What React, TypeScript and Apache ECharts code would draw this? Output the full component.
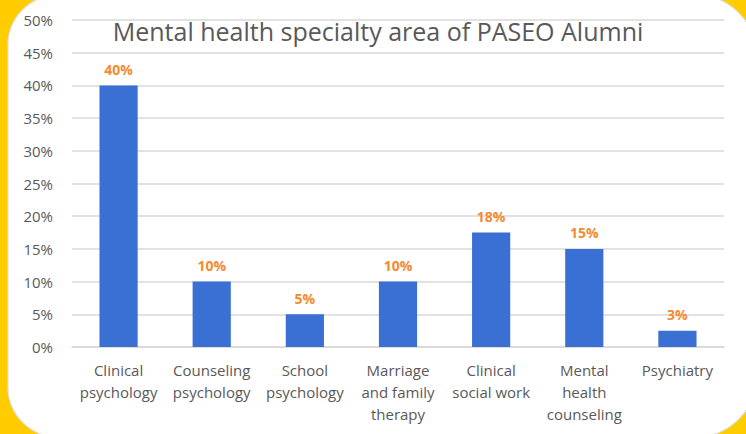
import React, { useEffect, useRef } from "react";
import * as echarts from "echarts";

const categories = [
  "Clinical\npsychology",
  "Counseling\npsychology",
  "School\npsychology",
  "Marriage\nand family\ntherapy",
  "Clinical\nsocial work",
  "Mental\nhealth\ncounseling",
  "Psychiatry",
];
const values = [40, 10, 5, 10, 17.5, 15, 2.5];
const titleText = "Mental health specialty area of PASEO Alumni";

export default function App() {
  const ref = useRef<HTMLDivElement>(null);
  useEffect(() => {
    document.body.style.margin = "0";
    const chart = echarts.init(ref.current!, null, { renderer: "svg" });
    chart.setOption({
      animation: false,
      backgroundColor: "#ffcc00",
      graphic: [
        {
          type: "rect",
          z: -10,
          silent: true,
          shape: { x: 8, y: -5, width: 748, height: 442, r: [50, 60, 60, 50] },
          style: { fill: "#ffffff", stroke: "#e0e0e0", lineWidth: 1.2 },
        },
      ],
      title: {
        text: titleText,
        left: 373,
        textAlign: "center",
        top: 13,
        textStyle: { fontFamily: "Open Sans", fontSize: 25, fontWeight: "normal", color: "#595959" },
      },
      grid: { left: 72, right: 22, top: 20, bottom: 87 },
      xAxis: {
        type: "category",
        data: categories,
        axisLine: { lineStyle: { color: "#d9d9d9", width: 1.5 } },
        axisTick: { show: false },
        axisLabel: {
          interval: 0,
          color: "#595959",
          fontFamily: "Open Sans",
          fontSize: 15,
          lineHeight: 22,
          margin: 12,
        },
      },
      yAxis: {
        type: "value",
        min: 0,
        max: 50,
        interval: 5,
        axisLabel: {
          formatter: (v: number) => v + "%",
          color: "#595959",
          fontFamily: "Open Sans",
          fontSize: 15,
          margin: 19,
        },
        splitLine: { lineStyle: { color: "#d9d9d9", width: 1.5 } },
        axisLine: { show: false },
        axisTick: { show: false },
      },
      series: [
        {
          type: "bar",
          data: values,
          barWidth: "41%",
          itemStyle: { color: "#3a6fd4" },
          label: {
            show: true,
            position: "top",
            distance: 9,
            formatter: (p: any) => Math.round(p.value) + "%",
            color: "#f58a30",
            fontWeight: "bold",
            fontFamily: "Open Sans",
            fontSize: 14,
          },
        },
      ],
    });
    return () => chart.dispose();
  }, []);
  return <div ref={ref} style={{ position: "absolute", left: 0, top: 0, width: 746, height: 434 }} />;
}
